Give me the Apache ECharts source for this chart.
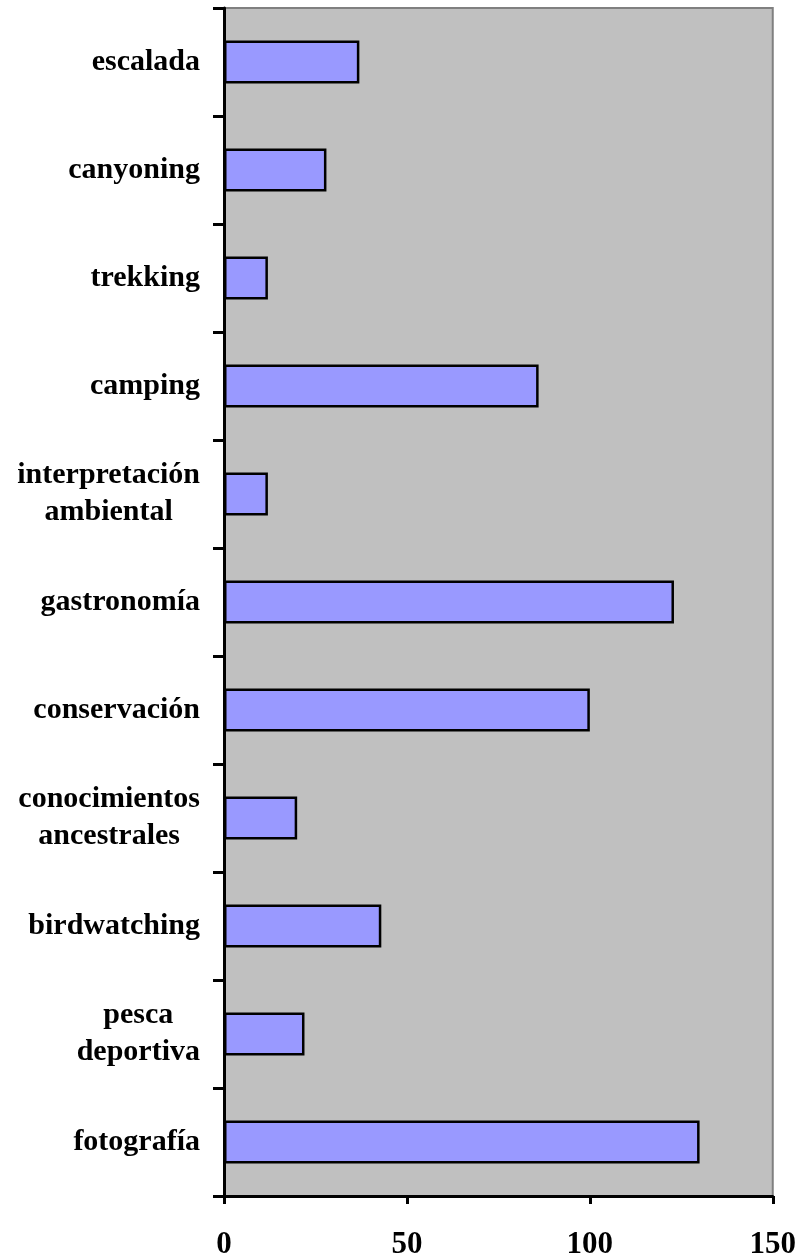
<!DOCTYPE html>
<html lang="es">
<head>
    <meta charset="utf-8">
    <title>Actividades - barras</title>
    <script src="https://cdn.jsdelivr.net/npm/echarts@6/dist/echarts.min.js"></script>
    <style>
        html, body { margin: 0; padding: 0; background: #fff; }
        #chart { width: 799px; height: 1260px; }
    </style>
</head>
<body>
    <div id="chart"></div>
    <script>
        // categorías de arriba hacia abajo
        var categorias = ['escalada', 'canyoning', 'trekking', 'camping',
            'interpretación\nambiental', 'gastronomía', 'conservación',
            'conocimientos\nancestrales', 'birdwatching', 'pesca\ndeportiva', 'fotografía'];
        var valores = [37, 28, 12, 86, 12, 123, 100, 20, 43, 22, 130];
        var ticksX = [0, 50, 100, 150];

        var fuente = '"Liberation Serif", "Times New Roman", serif';

        var chart = echarts.init(document.getElementById('chart'));
        var option = {
            animation: false,
            grid: {
                left: 224, right: 26, top: 8, bottom: 63,
                show: true,
                backgroundColor: '#C0C0C0',
                borderColor: '#808080',
                borderWidth: 2
            },
            xAxis: {
                type: 'value',
                min: ticksX[0],
                max: ticksX[ticksX.length - 1],
                interval: 50,
                axisLine: { show: true, lineStyle: { color: '#000', width: 3 } },
                axisTick: { show: true, length: 8, lineStyle: { color: '#000', width: 3 } },
                splitLine: { show: false },
                axisLabel: {
                    margin: 33,
                    color: '#000',
                    fontFamily: fuente,
                    fontWeight: 'bold',
                    fontSize: 31
                }
            },
            yAxis: {
                type: 'category',
                inverse: true,
                data: categorias,
                axisLine: { show: true, lineStyle: { color: '#000', width: 3 } },
                axisTick: { show: true, length: 11, lineStyle: { color: '#000', width: 3 } },
                axisLabel: {
                    margin: 24,
                    formatter: function (v) {
                        return v.split('\n').map(function (l) { return '{c|' + l + '}'; }).join('\n');
                    },
                    rich: {
                        c: {
                            align: 'center',
                            color: '#000',
                            fontFamily: fuente,
                            fontWeight: 'bold',
                            fontSize: 30,
                            lineHeight: 37
                        }
                    }
                }
            },
            series: [{
                type: 'bar',
                data: valores,
                barWidth: '40%',
                itemStyle: {
                    color: '#9999FF',
                    borderColor: '#000',
                    borderWidth: 2.5
                }
            }]
        };
        chart.setOption(option, true);
    </script>
</body>
</html>
